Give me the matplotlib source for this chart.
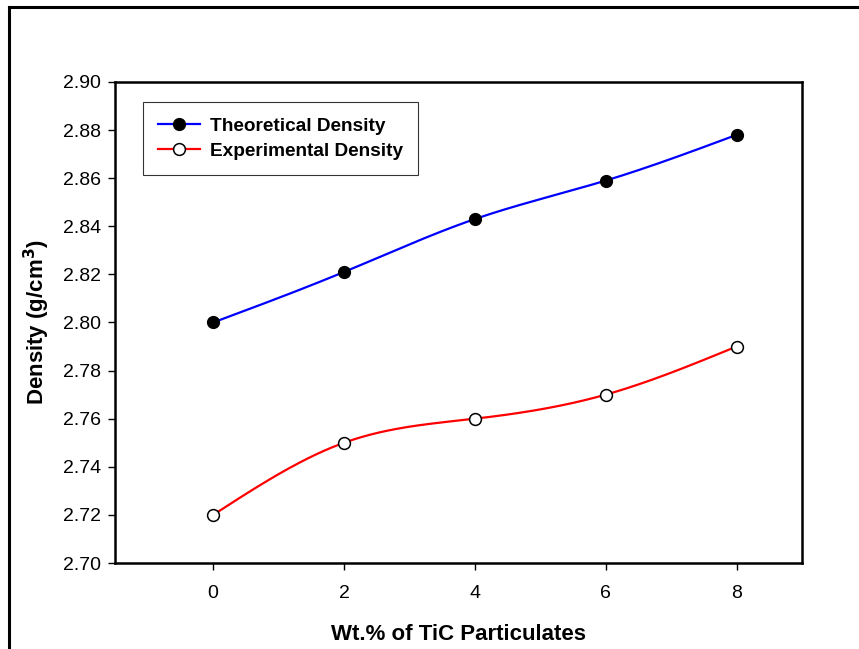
import numpy as np
import matplotlib
matplotlib.use('Agg')
import matplotlib.pyplot as plt
from matplotlib.lines import Line2D

plt.rcParams['font.family'] = ['Liberation Sans', 'DejaVu Sans']

# dane
wt_tic = [0, 2, 4, 6, 8]
gestosc_teoretyczna = [2.800, 2.821, 2.843, 2.859, 2.878]
gestosc_eksperymentalna = [2.720, 2.750, 2.760, 2.770, 2.790]


# naturalny splajn kubiczny - tylko do narysowania gładkiej linii
def splajn(x, y, n=200):
    x = np.asarray(x, float)
    y = np.asarray(y, float)
    k = len(x)
    h = np.diff(x)
    A = np.zeros((k, k))
    b = np.zeros(k)
    A[0, 0] = 1
    A[-1, -1] = 1
    for i in range(1, k - 1):
        A[i, i - 1] = h[i - 1]
        A[i, i] = 2 * (h[i - 1] + h[i])
        A[i, i + 1] = h[i]
        b[i] = 6 * ((y[i + 1] - y[i]) / h[i] - (y[i] - y[i - 1]) / h[i - 1])
    M = np.linalg.solve(A, b)
    xs = np.linspace(x[0], x[-1], n)
    ys = np.zeros_like(xs)
    for j, xv in enumerate(xs):
        i = min(np.searchsorted(x, xv, side='right') - 1, k - 2)
        t1 = x[i + 1] - xv
        t0 = xv - x[i]
        ys[j] = (M[i] * t1**3 + M[i + 1] * t0**3) / (6 * h[i]) \
            + (y[i] / h[i] - M[i] * h[i] / 6) * t1 \
            + (y[i + 1] / h[i] - M[i + 1] * h[i] / 6) * t0
    return xs, ys


fig = plt.figure(figsize=(8.59, 6.49), dpi=100)
ax = fig.add_axes([0.1339, 0.1325, 0.7997, 0.7412])

xs, ys = splajn(wt_tic, gestosc_teoretyczna)
ax.plot(xs, ys, color='#0000ff', lw=1.6, zorder=2)
xs, ys = splajn(wt_tic, gestosc_eksperymentalna)
ax.plot(xs, ys, color='#ff0000', lw=1.6, zorder=2)
ax.plot(wt_tic, gestosc_teoretyczna, 'o', color='black', ms=8.5, mec='black', zorder=3)
ax.plot(wt_tic, gestosc_eksperymentalna, 'o', mfc='white', mec='black', ms=8.5, mew=1.1, zorder=3)

uchwyty = [
    Line2D([], [], color='#0000ff', lw=1.6, marker='o', mfc='black', mec='black', ms=8.5),
    Line2D([], [], color='#ff0000', lw=1.6, marker='o', mfc='white', mec='black', ms=8.5, mew=1.1),
]
leg = ax.legend(uchwyty, ['Theoretical Density', 'Experimental Density'],
                loc='upper left', bbox_to_anchor=(0.041, 0.958),
                prop={'weight': 'bold', 'size': 13.7}, frameon=True, fancybox=False,
                edgecolor='black', handlelength=2.2, borderpad=0.8, labelspacing=0.4,
                handletextpad=0.5, borderaxespad=0)
leg.get_frame().set_linewidth(0.8)

ax.set_xlim(-1.5, 9)
ax.set_ylim(2.70, 2.90)
ax.set_xticks(wt_tic)
ax.set_yticks(np.arange(2.70, 2.901, 0.02))
ax.set_yticklabels([f'{v:.2f}' for v in np.arange(2.70, 2.901, 0.02)])
ax.tick_params(direction='out', length=5, width=1, labelsize=14, top=False, right=False)
ax.tick_params(axis='x', pad=11)
ax.tick_params(axis='y', pad=5)
for s in ax.spines.values():
    s.set_linewidth(1.8)

ax.set_xlabel('Wt.% of TiC Particulates', fontsize=16, fontweight='bold', labelpad=16)
ax.set_ylabel('Density (g/cm$^\\mathbf{3}$)', fontsize=16, fontweight='bold', labelpad=8)

# ramka wokół rysunku (tylko góra i lewa strona widoczne)
fig.add_artist(Line2D([9 / 859, 1], [1 - 7 / 649, 1 - 7 / 649], color='black', lw=2.2,
                      transform=fig.transFigure))
fig.add_artist(Line2D([9 / 859, 9 / 859], [0, 1 - 7 / 649], color='black', lw=2.2,
                      transform=fig.transFigure))

fig.savefig('out.png', dpi=100)
